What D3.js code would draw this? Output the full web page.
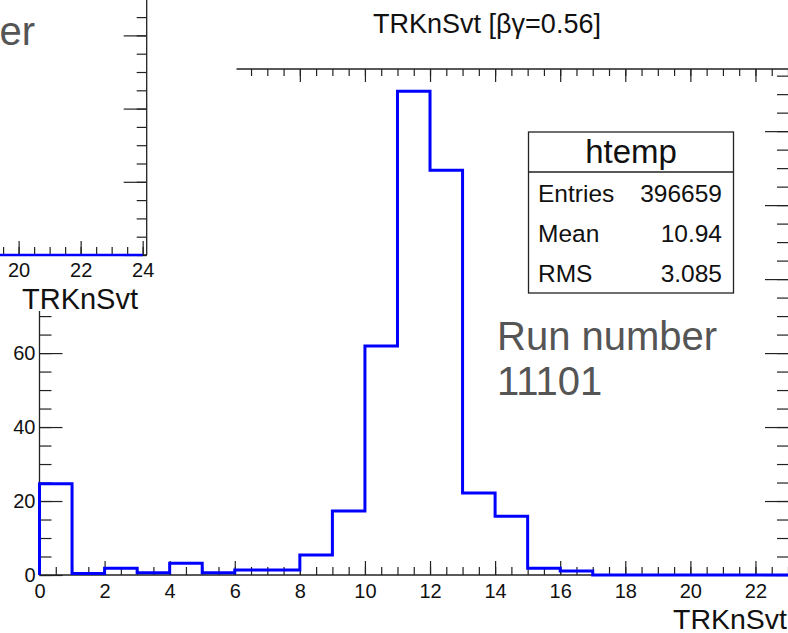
<!DOCTYPE html>
<html><head><meta charset="utf-8">
<script src="https://cdn.jsdelivr.net/npm/d3@7"></script>
<style>
body{margin:0;background:#fff}
svg{display:block}
text{font-family:"Liberation Sans",Arial,Helvetica,sans-serif}
</style>
</head><body>
<svg id="c" width="788" height="633"></svg>
<script>
// ---- data ----
const binLow = [0,1,2,3,4,5,6,7,8,9,10,11,12,13,14,15,16,17,18,19,20,21,22];
const counts = [24.7,0.4,1.8,0.6,3.2,0.6,1.35,1.35,5.4,17.3,61.9,130.8,109.4,22.2,15.9,1.8,1.1,0,0,0,0,0,0];
const binWidth = 1;
const xMajorTicks = [0,2,4,6,8,10,12,14,16,18,20,22];
const yMajorLabels = [0,20,40,60];
const titleText = "TRKnSvt [βγ=0.56]";
const xTitleText = "TRKnSvt";
const statsName = "htemp";
const statsLabels = ["Entries","Mean","RMS"];
const statsValues = ["396659","10.94","3.085"];
const runLines = ["Run number","11101"];
// inset (partially hidden earlier pad)
const insetBinLow = [19,20,21,22,23];
const insetCounts = [0,0,0,0,0];
const insetXLabels = [20,22,24];

const svg = d3.select("#c");
const axisColor = "#222";

// ---- main frame ----
const x = d3.scaleLinear().domain([0,23]).range([39.5,788]);
const y = d3.scaleLinear().domain([0,136.8]).range([575,69]);
const g = svg.append("g");

function styleAxis(sel){
  sel.select(".domain").remove();
  sel.selectAll(".tick line").attr("stroke",axisColor).attr("stroke-width",1.2);
  sel.selectAll("text").attr("fill","#111").style("font-family","'Liberation Sans',Arial,sans-serif");
}
const xMinor = d3.range(0,23.01,0.5);
const yMinor = d3.range(0,136,5);
const yMajor = d3.range(0,136,20);

// bottom axis
g.append("g").attr("transform","translate(0,575)")
  .call(d3.axisBottom(x).tickValues(xMinor).tickSize(-8).tickFormat(""))
  .call(styleAxis);
g.append("g").attr("transform","translate(0,575)")
  .call(d3.axisBottom(x).tickValues(xMajorTicks).tickSize(-14).tickPadding(9).tickFormat(d3.format("d")))
  .call(styleAxis)
  .call(s=>s.selectAll("text").attr("font-size",20));
// top axis
g.append("g").attr("transform","translate(0,69)")
  .call(d3.axisTop(x).tickValues(xMinor).tickSize(-7).tickFormat(""))
  .call(styleAxis);
g.append("g").attr("transform","translate(0,69)")
  .call(d3.axisTop(x).tickValues(xMajorTicks).tickSize(-13).tickFormat(""))
  .call(styleAxis);
// left axis
g.append("g").attr("transform","translate(39.5,0)")
  .call(d3.axisLeft(y).tickValues(yMinor).tickSize(-12).tickFormat(""))
  .call(styleAxis);
g.append("g").attr("transform","translate(39.5,0)")
  .call(d3.axisLeft(y).tickValues(yMajor).tickSize(-23).tickFormat(""))
  .call(styleAxis);
g.append("g").attr("transform","translate(39.5,0)")
  .call(d3.axisLeft(y).tickValues(yMajorLabels).tickSize(0).tickPadding(4).tickFormat(d3.format("d")))
  .call(styleAxis)
  .call(s=>s.selectAll("text").attr("font-size",20));
// right axis
g.append("g").attr("transform","translate(788,0)")
  .call(d3.axisRight(y).tickValues(yMinor).tickSize(-11).tickFormat(""))
  .call(styleAxis);
g.append("g").attr("transform","translate(788,0)")
  .call(d3.axisRight(y).tickValues(yMajor).tickSize(-23).tickFormat(""))
  .call(styleAxis);
// frame lines
g.append("line").attr("x1",x(0)).attr("x2",x(23)).attr("y1",575).attr("y2",575).attr("stroke",axisColor).attr("stroke-width",1.3);
g.append("line").attr("x1",x(0)).attr("x2",x(23)).attr("y1",69).attr("y2",69).attr("stroke",axisColor).attr("stroke-width",1.3);
g.append("line").attr("x1",39.5).attr("x2",39.5).attr("y1",y(0)).attr("y2",y(136.8)).attr("stroke",axisColor).attr("stroke-width",1.3);

// histogram
const pts = [[binLow[0], 0]];
binLow.forEach((b,i)=>{ pts.push([b,counts[i]]); pts.push([b+binWidth,counts[i]]); });
g.append("path")
  .attr("d", d3.line().x(d=>x(d[0])).y(d=>y(d[1]))(pts))
  .attr("fill","none").attr("stroke","#0000ff").attr("stroke-width",3).attr("stroke-linejoin","miter");

// x title
g.append("text").attr("x",787).attr("y",629).attr("text-anchor","end").attr("font-size",28.5).attr("fill","#111").text(xTitleText);

// run number
runLines.forEach((t,i)=>{
  g.append("text").attr("x",497).attr("y",350+i*45).attr("font-size",40).attr("fill","#555").text(t);
});

// stats box
const sb = {x:528.5,y:132,w:205,h:161,sep:172};
g.append("rect").attr("x",sb.x).attr("y",sb.y).attr("width",sb.w).attr("height",sb.h).attr("fill","#fff").attr("stroke","#222").attr("stroke-width",1.3);
g.append("line").attr("x1",sb.x).attr("x2",sb.x+sb.w).attr("y1",sb.sep).attr("y2",sb.sep).attr("stroke","#222").attr("stroke-width",1.3);
g.append("text").attr("x",sb.x+sb.w/2).attr("y",163).attr("text-anchor","middle").attr("font-size",33).attr("fill","#111").text(statsName);
statsLabels.forEach((l,i)=>{
  g.append("text").attr("x",538).attr("y",201.5+i*40).attr("font-size",24.5).attr("fill","#111").text(l);
  g.append("text").attr("x",722).attr("y",201.5+i*40).attr("text-anchor","end").attr("font-size",24.5).attr("fill","#111").text(statsValues[i]);
});

// title
svg.append("text").attr("x",487).attr("y",33).attr("text-anchor","middle").attr("font-size",27).attr("fill","#111").text(titleText);

// ---- inset pad (top-left, overlapping) ----
const ig = svg.append("g");
ig.append("rect").attr("x",0).attr("y",0).attr("width",236.5).attr("height",311).attr("fill","#fff");
const ix = d3.scaleLinear().domain([19.4,24.13]).range([0,146.7]);
const iy = d3.scaleLinear().domain([0,70]).range([255,255-70*3.66]);
const ixMinor = d3.range(19.5,24.01,0.5);
const iyMinor = d3.range(0,71,5);
const iyMajor = [0,20,40,60];
ig.append("g").attr("transform","translate(0,255)")
  .call(d3.axisBottom(ix).tickValues(ixMinor).tickSize(-8).tickFormat(""))
  .call(styleAxis);
ig.append("g").attr("transform","translate(0,255)")
  .call(d3.axisBottom(ix).tickValues(insetXLabels).tickSize(-14).tickPadding(8).tickFormat(d3.format("d")))
  .call(styleAxis)
  .call(s=>s.selectAll("text").attr("font-size",20));
ig.append("g").attr("transform","translate(146.7,0)")
  .call(d3.axisRight(iy).tickValues(iyMinor).tickSize(-10).tickFormat(""))
  .call(styleAxis);
ig.append("g").attr("transform","translate(146.7,0)")
  .call(d3.axisRight(iy).tickValues(iyMajor).tickSize(-23).tickFormat(""))
  .call(styleAxis);
ig.append("line").attr("x1",0).attr("x2",146.7).attr("y1",255).attr("y2",255).attr("stroke",axisColor).attr("stroke-width",1.3);
ig.append("line").attr("x1",146.7).attr("x2",146.7).attr("y1",0).attr("y2",255).attr("stroke",axisColor).attr("stroke-width",1.3);
const ipts = [];
insetBinLow.forEach((b,i)=>{ ipts.push([b,insetCounts[i]]); ipts.push([b+1,insetCounts[i]]); });
ig.append("path")
  .attr("d", d3.line().x(d=>ix(Math.max(19.4,Math.min(24.13,d[0])))).y(d=>iy(d[1]))(ipts))
  .attr("fill","none").attr("stroke","#0000ff").attr("stroke-width",2.5);
ig.append("text").attr("x",80).attr("y",309).attr("text-anchor","middle").attr("font-size",29).attr("fill","#111").text(xTitleText);
ig.append("text").attr("x",35).attr("y",45).attr("text-anchor","end").attr("font-size",40).attr("fill","#555").text(runLines[0]);
</script>
</body></html>
